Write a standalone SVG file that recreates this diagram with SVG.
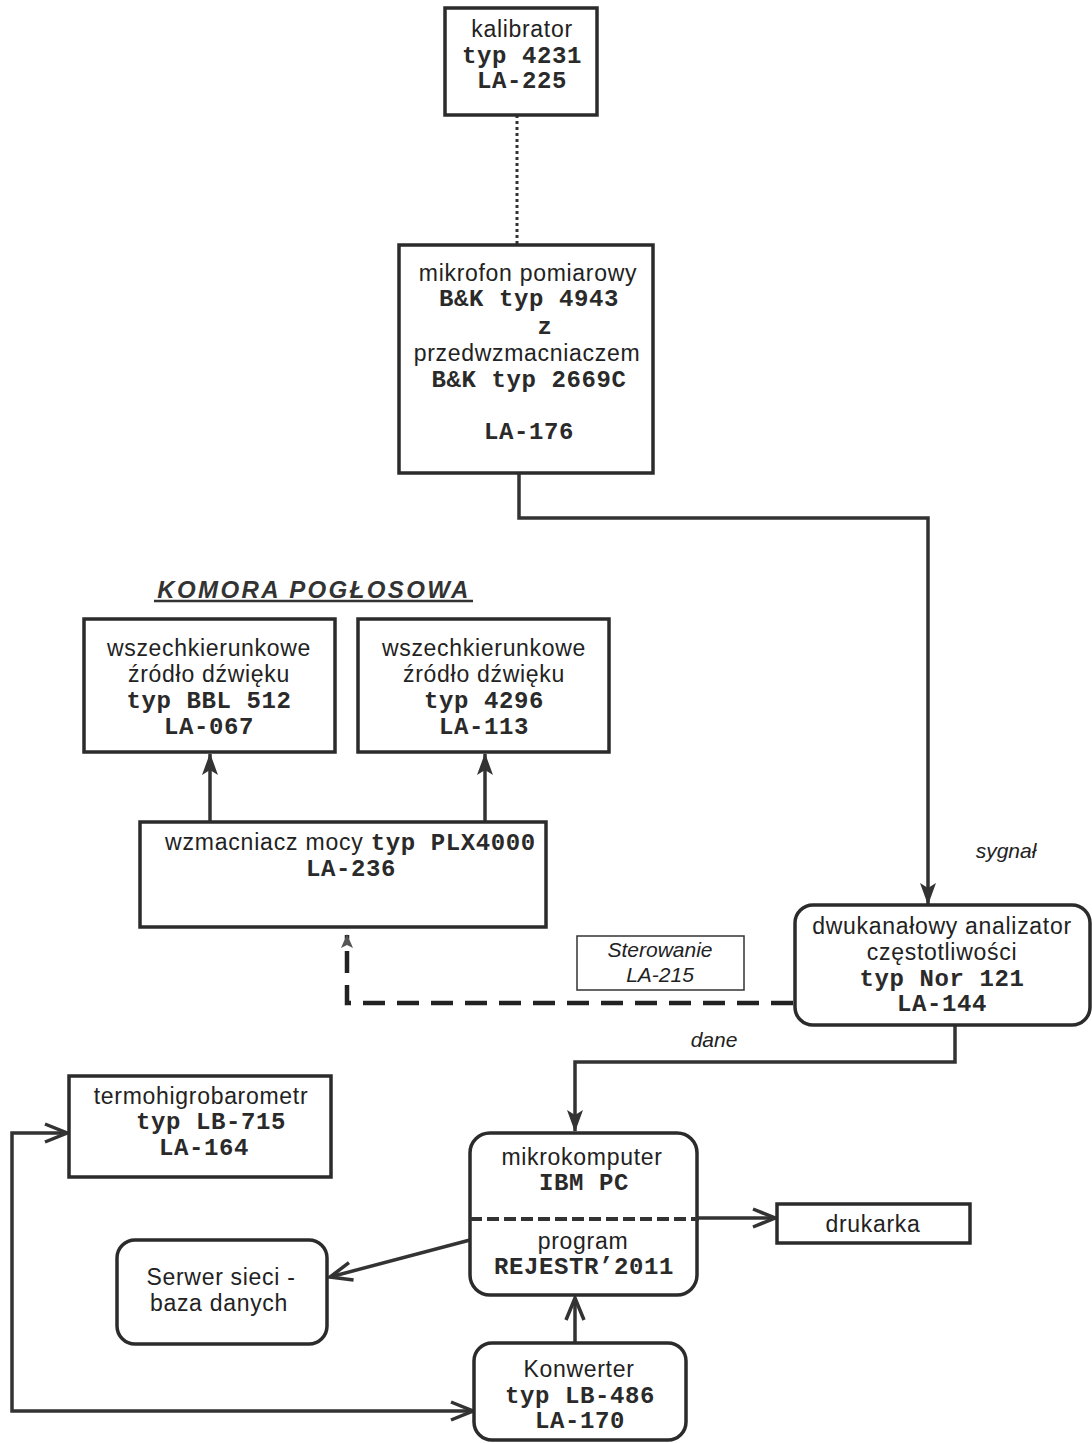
<svg xmlns="http://www.w3.org/2000/svg" width="1092" height="1443" viewBox="0 0 1092 1443">
<defs>
<style>
.box{fill:#fff;stroke:#2b2b2b;stroke-width:3.5}
.thin{fill:#fff;stroke:#333;stroke-width:1.5}
.s{font-family:"Liberation Sans",Arial,sans-serif;font-size:23px;letter-spacing:0.7px;fill:#222;text-anchor:middle}
.m{font-family:"Liberation Mono","Courier New",monospace;font-size:24px;font-weight:bold;fill:#2a2a2a;text-anchor:middle;letter-spacing:0.6px}
.i{font-family:"Liberation Sans",Arial,sans-serif;font-size:21px;font-style:italic;fill:#222;text-anchor:middle}
.ln{fill:none;stroke:#333;stroke-width:3.5}
</style>
<marker id="fa" markerUnits="userSpaceOnUse" markerWidth="22" markerHeight="16" viewBox="0 0 22 16" refX="21" refY="8" orient="auto-start-reverse">
<path d="M0,0 L22,8 L0,16 L5,8 z" fill="#333"/>
</marker>
<marker id="oa" markerUnits="userSpaceOnUse" markerWidth="28" markerHeight="24" viewBox="0 0 28 24" refX="25" refY="12" orient="auto-start-reverse">
<path d="M3,3 L25,12 L3,21" fill="none" stroke="#333" stroke-width="3.5" stroke-linejoin="miter"/>
</marker>
<marker id="sa" markerUnits="userSpaceOnUse" markerWidth="14" markerHeight="14" viewBox="0 0 14 14" refX="13" refY="7" orient="auto">
<path d="M0,1 L14,7 L0,13 L3,7 z" fill="#555"/>
</marker>
</defs>

<g id="connectors">
<line x1="517" y1="115" x2="517" y2="245" stroke="#333" stroke-width="3" stroke-dasharray="3,3"/>
<path class="ln" d="M519,473 L519,518 L928,518 L928,904" marker-end="url(#fa)"/>
<line class="ln" x1="210" y1="822" x2="210" y2="754" marker-end="url(#fa)"/>
<line class="ln" x1="485" y1="822" x2="485" y2="754" marker-end="url(#fa)"/>
<path d="M793,1003 L347,1003 L347,935" fill="none" stroke="#222" stroke-width="4.5" stroke-dasharray="22,12" marker-end="url(#sa)"/>
<path class="ln" d="M955,1025 L955,1062 L575,1062 L575,1131" marker-end="url(#fa)"/>
<path class="ln" d="M67,1133 L12,1133 L12,1411 L473,1411" marker-start="url(#oa)" marker-end="url(#oa)"/>
<line class="ln" x1="697" y1="1218" x2="775" y2="1218" marker-end="url(#oa)"/>
<line class="ln" x1="470" y1="1240" x2="330" y2="1277" marker-end="url(#oa)"/>
<line class="ln" x1="575" y1="1343" x2="575" y2="1298" marker-end="url(#oa)"/>
</g>

<g id="kalibrator">
<rect class="box" x="445" y="8" width="152" height="107"/>
<text class="s" x="522" y="37">kalibrator</text>
<text class="m" x="522" y="63">typ 4231</text>
<text class="m" x="522" y="88">LA-225</text>
</g>

<g id="mikrofon">
<rect class="box" x="399" y="245" width="254" height="228"/>
<text class="s" x="528" y="281">mikrofon pomiarowy</text>
<text class="m" x="529" y="306">B&amp;K typ 4943</text>
<text class="m" x="545" y="334">z</text>
<text class="s" x="527" y="361">przedwzmacniaczem</text>
<text class="m" x="529" y="387">B&amp;K typ 2669C</text>
<text class="m" x="529" y="439">LA-176</text>
</g>

<g id="komora-title">
<text x="314" y="598" font-family="'Liberation Sans',Arial,sans-serif" font-size="24" font-weight="bold" font-style="italic" letter-spacing="2.4" fill="#333" text-anchor="middle">KOMORA POGŁOSOWA</text>
<line x1="154" y1="601" x2="473" y2="601" stroke="#333" stroke-width="2.5"/>
</g>

<g id="zrodlo1">
<rect class="box" x="84" y="619" width="251" height="133"/>
<text class="s" x="209" y="656">wszechkierunkowe</text>
<text class="s" x="209" y="682">źródło dźwięku</text>
<text class="m" x="209" y="708">typ BBL 512</text>
<text class="m" x="209" y="734">LA-067</text>
</g>

<g id="zrodlo2">
<rect class="box" x="358" y="619" width="251" height="133"/>
<text class="s" x="484" y="656">wszechkierunkowe</text>
<text class="s" x="484" y="682">źródło dźwięku</text>
<text class="m" x="484" y="708">typ 4296</text>
<text class="m" x="484" y="734">LA-113</text>
</g>

<g id="wzmacniacz">
<rect class="box" x="140" y="822" width="406" height="105"/>
<text x="165" y="850" fill="#222"><tspan font-family="'Liberation Sans',Arial,sans-serif" font-size="23" letter-spacing="0.8">wzmacniacz mocy </tspan><tspan font-family="'Liberation Mono','Courier New',monospace" font-size="24" font-weight="bold" letter-spacing="0.6" fill="#2a2a2a">typ PLX4000</tspan></text>
<text class="m" x="351" y="876">LA-236</text>
</g>

<g id="sterowanie">
<rect class="thin" x="577" y="936" width="167" height="54"/>
<text class="i" x="660" y="957">Sterowanie</text>
<text class="i" x="660" y="982">LA-215</text>
</g>

<g id="analizator">
<rect class="box" x="795" y="905" width="295" height="120" rx="18"/>
<text class="s" x="942" y="934">dwukanałowy analizator</text>
<text class="s" x="942" y="960">częstotliwości</text>
<text class="m" x="942" y="986">typ Nor 121</text>
<text class="m" x="942" y="1011">LA-144</text>
</g>

<g id="labels">
<text class="i" x="1006" y="858">sygnał</text>
<text class="i" x="714" y="1047">dane</text>
</g>

<g id="termohigrobarometr">
<rect class="box" x="69" y="1076" width="262" height="101"/>
<text class="s" x="201" y="1104">termohigrobarometr</text>
<text class="m" x="211" y="1129">typ LB-715</text>
<text class="m" x="204" y="1155">LA-164</text>
</g>

<g id="mikrokomputer">
<rect class="box" x="470" y="1133" width="227" height="162" rx="20"/>
<line x1="470" y1="1219" x2="699" y2="1219" stroke="#333" stroke-width="4" stroke-dasharray="12,5"/>
<text class="s" x="582" y="1165">mikrokomputer</text>
<text class="m" x="584" y="1190">IBM PC</text>
<text class="s" x="583" y="1249">program</text>
<text class="m" x="584" y="1274">REJESTR’2011</text>
</g>

<g id="drukarka">
<rect class="box" x="777" y="1204" width="193" height="39"/>
<text class="s" x="873" y="1232">drukarka</text>
</g>

<g id="serwer">
<rect class="box" x="117" y="1240" width="210" height="104" rx="18"/>
<text class="s" x="221" y="1285">Serwer sieci -</text>
<text class="s" x="219" y="1311">baza danych</text>
</g>

<g id="konwerter">
<rect class="box" x="474" y="1343" width="212" height="97" rx="18"/>
<text class="s" x="579" y="1377">Konwerter</text>
<text class="m" x="580" y="1403">typ LB-486</text>
<text class="m" x="580" y="1428">LA-170</text>
</g>
</svg>
